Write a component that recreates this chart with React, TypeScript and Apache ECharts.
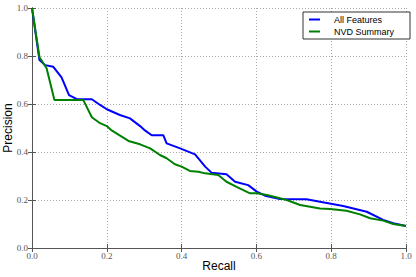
import React, { useEffect, useRef } from "react";
import * as echarts from "echarts";

const allRecall = [0, 0.02, 0.035, 0.057, 0.079, 0.099, 0.12, 0.16, 0.182, 0.2, 0.235, 0.262, 0.289, 0.302, 0.32, 0.351, 0.36, 0.396, 0.436, 0.463, 0.48, 0.52, 0.543, 0.578, 0.601, 0.623, 0.663, 0.734, 0.77, 0.832, 0.895, 0.939, 0.966, 1.0];
const allPrecision = [1.0, 0.783, 0.762, 0.755, 0.711, 0.637, 0.62, 0.62, 0.596, 0.578, 0.554, 0.54, 0.508, 0.49, 0.47, 0.47, 0.436, 0.415, 0.39, 0.339, 0.314, 0.307, 0.276, 0.262, 0.235, 0.218, 0.204, 0.203, 0.193, 0.175, 0.151, 0.117, 0.103, 0.092];

const nvdRecall = [0, 0.02, 0.039, 0.06, 0.137, 0.16, 0.182, 0.2, 0.213, 0.258, 0.289, 0.316, 0.342, 0.36, 0.382, 0.4, 0.422, 0.445, 0.463, 0.498, 0.52, 0.547, 0.583, 0.601, 0.628, 0.663, 0.681, 0.717, 0.77, 0.797, 0.841, 0.877, 0.904, 0.939, 0.966, 1.0];
const nvdPrecision = [1.0, 0.795, 0.749, 0.617, 0.617, 0.545, 0.52, 0.508, 0.49, 0.446, 0.432, 0.415, 0.3875, 0.374, 0.349, 0.339, 0.321, 0.318, 0.311, 0.304, 0.276, 0.255, 0.228, 0.228, 0.221, 0.207, 0.2, 0.179, 0.165, 0.1625, 0.155, 0.14, 0.124, 0.114, 0.1, 0.092];

const seriesNames = ["All Features", "NVD Summary"];
const seriesColors = ["#0000ff", "#008000"];

const zip = (xs: number[], ys: number[]) => xs.map((x, i) => [x, ys[i]]);

export default function App() {
  const ref = useRef<HTMLDivElement>(null);
  useEffect(() => {
    if (!ref.current) return;
    const chart = echarts.init(ref.current, null, { renderer: "svg" });
    const frame = "#555555";
    const tickLabel = { fontFamily: "Liberation Serif", fontSize: 9, color: "#555555" };
    const baseAxis = {
      type: "value" as const,
      min: 0,
      max: 1,
      interval: 0.2,
      axisLine: { show: true, lineStyle: { color: frame, width: 1 } },
      axisTick: { show: true, inside: true, length: 4, lineStyle: { color: frame } },
      splitLine: { show: false },
    };
    chart.setOption({
      animation: false,
      backgroundColor: "#ffffff",
      grid: { left: 32, top: 8, width: 374, height: 240, show: false, containLabel: false, outerBoundsMode: "none" },
      legend: {
        data: seriesNames,
        orient: "vertical",
        left: 303,
        top: 12,
        padding: [3, 16, 3, 6],
        itemGap: 3,
        itemWidth: 11,
        itemHeight: 2,
        icon: "rect",
        borderColor: "#333333",
        borderWidth: 1,
        borderRadius: 0,
        backgroundColor: "#ffffff",
        textStyle: { fontFamily: "Liberation Sans", fontSize: 9, color: "#000", padding: [0, 0, 0, 9] },
      },
      xAxis: [
        {
          ...baseAxis,
          position: "bottom",
          name: "Recall",
          nameLocation: "middle",
          nameGap: 12,
          nameMoveOverlap: false,
          nameTextStyle: { fontFamily: "Liberation Sans", fontSize: 12, color: "#000" },
          axisLabel: { ...tickLabel, margin: 3, formatter: (v: number) => v.toFixed(1) },
          splitLine: { show: true, lineStyle: { color: "#aaaaaa", type: [1, 2], width: 1 } },
        },
        { ...baseAxis, position: "top", axisLabel: { show: false } },
      ],
      yAxis: [
        {
          ...baseAxis,
          position: "left",
          name: "Precision",
          nameLocation: "middle",
          nameGap: 18,
          nameMoveOverlap: false,
          nameTextStyle: { fontFamily: "Liberation Sans", fontSize: 12, color: "#000" },
          axisLabel: { ...tickLabel, margin: 4, formatter: (v: number) => v.toFixed(1) },
          splitLine: { show: true, lineStyle: { color: "#aaaaaa", type: [1, 2], width: 1 } },
        },
        { ...baseAxis, position: "right", axisLabel: { show: false } },
      ],
      series: [
        {
          name: seriesNames[0],
          type: "line",
          data: zip(allRecall, allPrecision),
          symbol: "none",
          color: seriesColors[0],
          lineStyle: { width: 2, color: seriesColors[0] },
          z: 3,
        },
        {
          name: seriesNames[1],
          type: "line",
          data: zip(nvdRecall, nvdPrecision),
          symbol: "none",
          color: seriesColors[1],
          lineStyle: { width: 2, color: seriesColors[1] },
          z: 4,
        },
      ],
    });
    return () => chart.dispose();
  }, []);
  return <div ref={ref} style={{ position: "fixed", left: 0, top: 0, width: 416, height: 277 }} />;
}
